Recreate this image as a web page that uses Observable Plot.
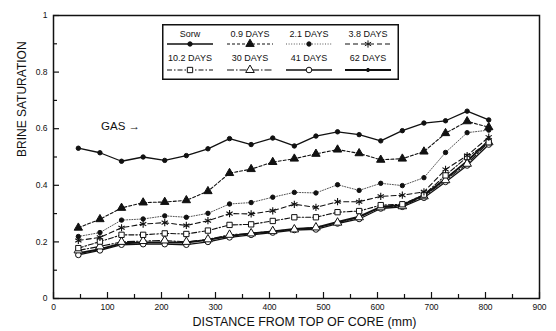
<!DOCTYPE html>
<html><head><meta charset="utf-8">
<script src="https://cdn.jsdelivr.net/npm/d3@7"></script>
<script src="https://cdn.jsdelivr.net/npm/@observablehq/plot@0.6"></script>
<style>
body{margin:0;background:#fff;}
#wrap{position:relative;width:556px;height:331px;background:#fff;}
#legend{position:absolute;left:162px;top:24px;}
</style></head><body><div id="wrap"></div>
<script>
// ---- data ----
const distance = [46,86,126,166,206,246,286,326,366,406,446,486,526,566,606,646,686,726,766,806];
const sorw    = [0.531,0.515,0.485,0.500,0.488,0.505,0.529,0.565,0.544,0.567,0.539,0.574,0.589,0.579,0.557,0.593,0.620,0.628,0.662,0.631];
const days0_9 = [0.250,0.280,0.320,0.339,0.341,0.347,0.379,0.443,0.457,0.482,0.494,0.511,0.526,0.513,0.490,0.494,0.519,0.584,0.626,0.605];
const days2_1 = [0.219,0.233,0.277,0.281,0.292,0.287,0.301,0.334,0.339,0.358,0.375,0.373,0.402,0.382,0.407,0.399,0.427,0.516,0.586,0.595];
const days3_8 = [0.205,0.216,0.250,0.263,0.268,0.258,0.275,0.300,0.299,0.310,0.333,0.322,0.342,0.342,0.361,0.365,0.377,0.456,0.505,0.570];
const days10_2= [0.178,0.201,0.225,0.225,0.230,0.228,0.240,0.260,0.262,0.274,0.287,0.287,0.305,0.309,0.330,0.333,0.367,0.435,0.500,0.552];
const days30  = [0.170,0.184,0.200,0.203,0.205,0.200,0.209,0.225,0.230,0.238,0.244,0.251,0.268,0.287,0.322,0.326,0.361,0.418,0.476,0.552];
const days41  = [0.154,0.170,0.190,0.192,0.192,0.190,0.200,0.216,0.225,0.233,0.242,0.244,0.265,0.281,0.318,0.324,0.356,0.412,0.470,0.544];
const days62  = [0.160,0.174,0.195,0.198,0.198,0.198,0.207,0.221,0.230,0.237,0.246,0.250,0.271,0.289,0.324,0.330,0.365,0.423,0.485,0.558];
const seriesNames = ["Sorw","0.9 DAYS","2.1 DAYS","3.8 DAYS","10.2 DAYS","30 DAYS","41 DAYS","62 DAYS"];
const seriesValues = [sorw, days0_9, days2_1, days3_8, days10_2, days30, days41, days62];
const xTicks = [0,100,200,300,400,500,600,700,800,900];
const xMinorTicks = [50,150,250,350,450,550,650,750,850];
const yTicks = [0,0.2,0.4,0.6,0.8,1];
const yMinorTicks = [0.1,0.3,0.5,0.7,0.9];
const xTitle = "DISTANCE FROM TOP OF CORE (mm)";
const yTitle = "BRINE SATURATION";
const gasNote = {x: 88, y: 0.61, text: "GAS →"};

// ---- styles ----
const styles = [
  {dash: null,         width: 1.3, stroke: "#111", symbol: "circle",   r: 2.2, fill: "#111"},
  {dash: "3,2",        width: 1.1, stroke: "#111", symbol: "triangle", r: 3.1, fill: "#111"},
  {dash: "1,1.6",      width: 1.0, stroke: "#555", symbol: "circle",   r: 2.2, fill: "#111"},
  {dash: "5,3",        width: 1.1, stroke: "#111", symbol: "asterisk", r: 3.4, fill: "none"},
  {dash: "5,2,1.5,2",  width: 1.1, stroke: "#111", symbol: "square",   r: 3.0, fill: "white"},
  {dash: "7,2,1.5,2",  width: 1.1, stroke: "#111", symbol: "triangle", r: 3.2, fill: "white"},
  {dash: null,         width: 1.3, stroke: "#111", symbol: "circle",   r: 2.8, fill: "white"},
  {dash: null,         width: 1.9, stroke: "#111", symbol: "circle",   r: 1.6, fill: "#111"}
];

const table = seriesNames.map((name, s) => distance.map((d, i) => ({series: name, distance: d, sat: seriesValues[s][i]})));

const marks = [];
const order = [7,6,5,4,3,2,1,0];
for (const s of order) {
  const st = styles[s];
  marks.push(Plot.line(table[s], {x: "distance", y: "sat", stroke: st.stroke, strokeWidth: st.width, strokeDasharray: st.dash ?? undefined}));
}
for (const s of order) {
  const st = styles[s];
  marks.push(Plot.dot(table[s], {x: "distance", y: "sat", symbol: st.symbol, r: st.r,
    fill: st.fill, stroke: "#111", strokeWidth: st.symbol === "asterisk" ? 1.1 : 1}));
}

const font = "'Liberation Sans', Arial, sans-serif";
const chart = Plot.plot({
  width: 556, height: 331,
  marginLeft: 53, marginRight: 17, marginTop: 15, marginBottom: 33,
  x: {domain: [0, 900]},
  y: {domain: [0, 1]},
  style: {fontFamily: font, fontSize: "8.5px", color: "#111", background: "white"},
  marks: [
    // inward ticks (shifted into the frame)
    Plot.axisX({ticks: xTicks, tickSize: 6, dy: -6, tickFormat: () => "", label: null, strokeWidth: 1.2}),
    Plot.axisX({ticks: xMinorTicks, tickSize: 4, dy: -4, tickFormat: () => "", label: null, strokeWidth: 1.2}),
    Plot.axisY({ticks: yTicks, tickSize: 6, dx: 6, tickFormat: () => "", label: null, strokeWidth: 1.2}),
    Plot.axisY({ticks: yMinorTicks, tickSize: 4, dx: 4, tickFormat: () => "", label: null, strokeWidth: 1.2}),
    // tick labels
    Plot.axisX({ticks: xTicks, tickSize: 0, tickPadding: 5, tickFormat: d => String(d), label: null}),
    Plot.axisY({ticks: yTicks, tickSize: 0, tickPadding: 6, tickFormat: d => String(d), label: null}),
    Plot.frame({stroke: "#111", strokeWidth: 1.5}),
    ...marks,
    Plot.text([gasNote], {x: "x", y: "y", text: "text", textAnchor: "start", fontSize: 11.5, fill: "#111"}),
    Plot.text([xTitle], {frameAnchor: "bottom", dy: 27, dx: 8, fontSize: 12.5, fill: "#111"}),
    Plot.text([yTitle], {frameAnchor: "left", dx: -31, rotate: -90, fontSize: 12, fill: "#111"})
  ]
});
const wrap = document.getElementById("wrap");
wrap.appendChild(chart);

// ---- legend (overlay inside the plot area) ----
const lg = d3.select(wrap).append("svg").attr("id", "legend")
  .attr("width", 237).attr("height", 56);
lg.append("rect").attr("x", 0.75).attr("y", 0.75).attr("width", 235.5).attr("height", 54.5)
  .attr("fill", "white").attr("stroke", "#111").attr("stroke-width", 1.5);
const colX = [28, 88, 147, 206];
const textY = [11, 35];
const lineY = [20, 46];
const symMap = {circle: d3.symbolCircle, triangle: d3.symbolTriangle, square: d3.symbolSquare, asterisk: d3.symbolAsterisk};
seriesNames.forEach((name, i) => {
  const st = styles[i];
  const cx = colX[i % 4], row = Math.floor(i / 4);
  lg.append("text").attr("x", cx).attr("y", textY[row]).attr("text-anchor", "middle")
    .attr("dominant-baseline", "middle").attr("font-family", font)
    .attr("font-size", 9).attr("fill", "#111").text(name);
  lg.append("line").attr("x1", cx - 23).attr("x2", cx + 23).attr("y1", lineY[row]).attr("y2", lineY[row])
    .attr("stroke", st.stroke).attr("stroke-width", st.width)
    .attr("stroke-dasharray", st.dash);
  lg.append("path").attr("transform", `translate(${cx},${lineY[row]})`)
    .attr("d", d3.symbol(symMap[st.symbol], Math.PI * st.r * st.r)())
    .attr("fill", st.fill).attr("stroke", st.symbol === "asterisk" ? "#111" : "#111")
    .attr("stroke-width", 1);
});
</script></body></html>
